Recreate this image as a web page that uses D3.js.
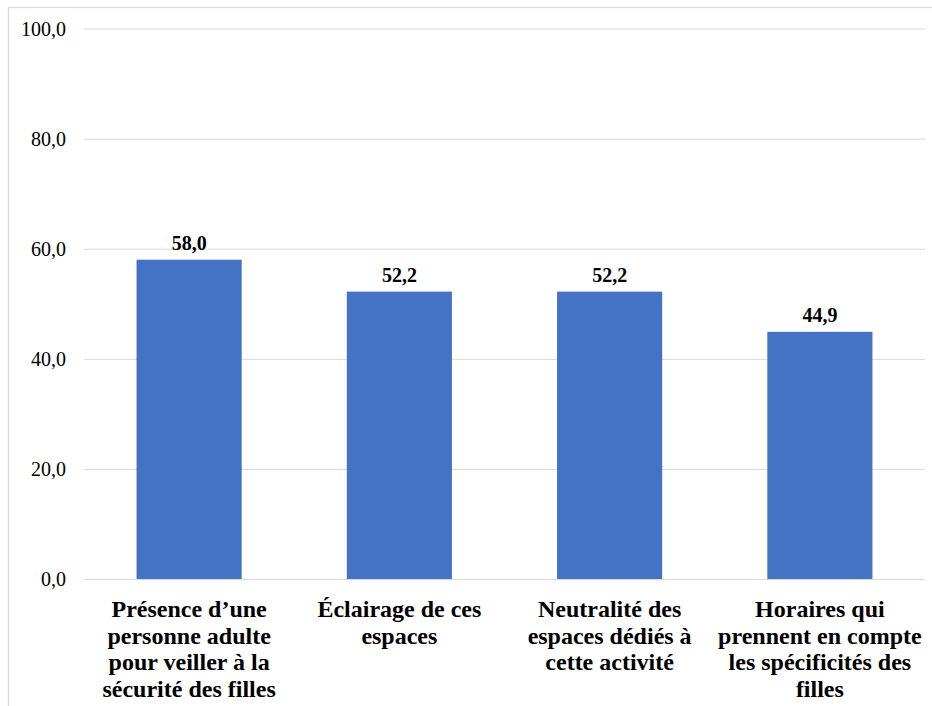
<!DOCTYPE html>
<html>
<head>
<meta charset="utf-8">
<script src="https://cdn.jsdelivr.net/npm/d3@7"></script>
<style>
  html, body { margin: 0; padding: 0; background: #fff; }
  svg { display: block; font-family: "Times New Roman", "Liberation Serif", serif; }
  .tick text { font-family: "Times New Roman", "Liberation Serif", serif; }
</style>
</head>
<body>
<svg id="chart" width="932" height="706" font-family="Times New Roman"></svg>
<script>
const categories = [
  "Présence d’une personne adulte pour veiller à la sécurité des filles",
  "Éclairage de ces espaces",
  "Neutralité des espaces dédiés à cette activité",
  "Horaires qui prennent en compte les spécificités des filles"
];
const categoryLines = [
  ["Présence d’une", "personne adulte", "pour veiller à la", "sécurité des filles"],
  ["Éclairage de ces", "espaces"],
  ["Neutralité des", "espaces dédiés à", "cette activité"],
  ["Horaires qui", "prennent en compte", "les spécificités des", "filles"]
];
const values = [58.0, 52.2, 52.2, 44.9];
const yTicks = [0, 20, 40, 60, 80, 100];

const fmt = v => v.toFixed(1).replace(".", ",");
const FONT = "Times New Roman";

const svg = d3.select("#chart");
const W = 932, H = 706;
const plot = { left: 84, right: 925, top: 28.5, bottom: 579 };

// outer border
svg.append("rect")
  .attr("x", 8.5).attr("y", 7.5)
  .attr("width", W + 10).attr("height", H + 10)
  .attr("fill", "#fff")
  .attr("stroke", "#d9d9d9").attr("stroke-width", 1.2);

const x = d3.scaleBand()
  .domain(categories)
  .range([plot.left, plot.right])
  .paddingInner(0.5)
  .paddingOuter(0.25);

const y = d3.scaleLinear()
  .domain([0, 100])
  .range([plot.bottom, plot.top]);

// gridlines + y tick labels via axis
const yAxis = d3.axisLeft(y)
  .tickValues(yTicks)
  .tickFormat(fmt)
  .tickSize(-(plot.right - plot.left))
  .tickPadding(18);

const gy = svg.append("g")
  .attr("transform", `translate(${plot.left},0)`)
  .call(yAxis)
  .attr("font-family", FONT)
  .attr("font-size", 20);
gy.select(".domain").remove();
gy.selectAll(".tick line")
  .attr("stroke", "#d9d9d9")
  .attr("stroke-width", 1);
gy.selectAll(".tick text")
  .attr("font-family", FONT)
  .attr("font-size", 20)
  .attr("fill", "#000")
  .attr("dy", "0.33em");

// bars
svg.append("g").selectAll("rect")
  .data(values)
  .join("rect")
  .attr("x", (d, i) => x(categories[i]))
  .attr("width", x.bandwidth())
  .attr("y", d => y(d))
  .attr("height", d => y(0) - y(d))
  .attr("fill", "#4472C4");

// value labels
svg.append("g").selectAll("text")
  .data(values)
  .join("text")
  .attr("x", (d, i) => x(categories[i]) + x.bandwidth() / 2)
  .attr("y", d => y(d) - 10)
  .attr("text-anchor", "middle")
  .attr("font-family", FONT)
  .attr("font-weight", "bold")
  .attr("font-size", 20)
  .attr("fill", "#000")
  .text(fmt);

// category labels
const xl = svg.append("g");
categories.forEach((c, i) => {
  const cx = x(c) + x.bandwidth() / 2;
  const t = xl.append("text")
    .attr("x", cx)
    .attr("y", 617)
    .attr("text-anchor", "middle")
    .attr("font-family", FONT)
    .attr("font-weight", "bold")
    .attr("font-size", 24)
    .attr("fill", "#000");
  categoryLines[i].forEach((line, j) => {
    t.append("tspan")
      .attr("x", cx)
      .attr("dy", j === 0 ? 0 : 26.7)
      .text(line);
  });
});
</script>
</body>
</html>
